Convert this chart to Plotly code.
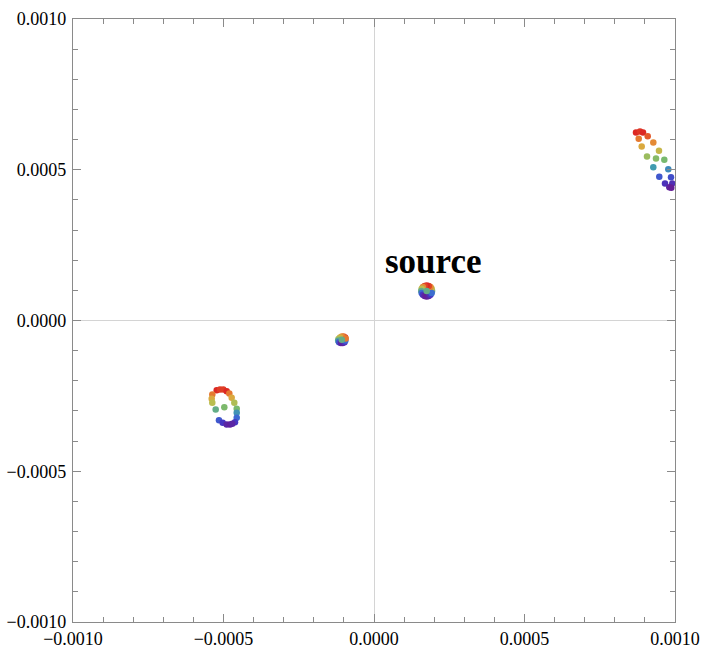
import plotly.graph_objects as go

# Source disk (data units)
src_x = [1.93e-4, 1.916e-4, 1.877e-4, 1.819e-4, 1.75e-4, 1.681e-4, 1.623e-4, 1.584e-4,
         1.57e-4, 1.584e-4, 1.623e-4, 1.681e-4, 1.75e-4, 1.819e-4, 1.877e-4, 1.916e-4, 1.75e-4]
src_y = [0.98e-4, 1.049e-4, 1.107e-4, 1.146e-4, 1.16e-4, 1.146e-4, 1.107e-4, 1.049e-4,
         0.98e-4, 0.911e-4, 0.853e-4, 0.814e-4, 0.80e-4, 0.814e-4, 0.853e-4, 0.911e-4, 0.98e-4]
src_t = [0.5, 0.69, 0.85, 0.96, 1.0, 0.96, 0.85, 0.69, 0.5, 0.31, 0.15, 0.04, 0.0, 0.04, 0.15, 0.31, 0.5]

# Small central image
img1_x = [-0.96e-4, -1.01e-4, -1.07e-4, -1.13e-4, -1.18e-4, -1.19e-4, -1.16e-4, -1.10e-4,
          -1.04e-4, -0.98e-4, -0.95e-4, -0.94e-4, -1.07e-4]
img1_y = [-0.56e-4, -0.53e-4, -0.53e-4, -0.56e-4, -0.61e-4, -0.67e-4, -0.72e-4, -0.75e-4,
          -0.75e-4, -0.72e-4, -0.66e-4, -0.60e-4, -0.64e-4]
img1_t = [1.0, 0.92, 0.85, 0.75, 0.65, 0.45, 0.25, 0.05, 0.02, 0.12, 0.3, 0.88, 0.5]

# Lower-left ring image
img2_x = [-0.5226e-3, -0.5116e-3, -0.5007e-3, -0.4894e-3, -0.5372e-3, -0.4807e-3, -0.5392e-3,
          -0.4728e-3, -0.5372e-3, -0.4641e-3, -0.5259e-3, -0.4973e-3, -0.4561e-3, -0.4561e-3,
          -0.5150e-3, -0.4561e-3, -0.5027e-3, -0.4618e-3, -0.4894e-3, -0.4784e-3, -0.4708e-3]
img2_y = [-0.2312e-3, -0.2289e-3, -0.2289e-3, -0.2345e-3, -0.2454e-3, -0.2421e-3, -0.2597e-3,
          -0.2564e-3, -0.2730e-3, -0.2730e-3, -0.2952e-3, -0.2876e-3, -0.2929e-3, -0.3061e-3,
          -0.3307e-3, -0.3227e-3, -0.3393e-3, -0.3373e-3, -0.3449e-3, -0.3449e-3, -0.3426e-3]
img2_t = [1.0, 0.97, 0.97, 1.0, 0.88, 0.88, 0.78, 0.78, 0.68, 0.66, 0.5, 0.56, 0.55, 0.4,
          0.25, 0.3, 0.15, 0.15, 0.05, 0.02, 0.05]

# Upper-right arc image
img3_x = [0.8704e-3, 0.8837e-3, 0.8937e-3, 0.8794e-3, 0.9093e-3, 0.9279e-3, 0.8894e-3,
          0.9468e-3, 0.9070e-3, 0.9369e-3, 0.9645e-3, 0.9279e-3, 0.9777e-3, 0.9478e-3,
          0.9867e-3, 0.9668e-3, 0.9910e-3, 0.9811e-3, 0.9877e-3]
img3_y = [0.6235e-3, 0.6269e-3, 0.6235e-3, 0.6026e-3, 0.6113e-3, 0.5904e-3, 0.5771e-3,
          0.5629e-3, 0.5439e-3, 0.5373e-3, 0.5330e-3, 0.5085e-3, 0.5018e-3, 0.4766e-3,
          0.4753e-3, 0.4544e-3, 0.4544e-3, 0.4421e-3, 0.4401e-3]
img3_t = [1.0, 0.98, 1.0, 0.88, 0.93, 0.85, 0.78, 0.72, 0.62, 0.58, 0.55, 0.42, 0.38,
          0.25, 0.22, 0.12, 0.1, 0.03, 0.0]

label_text = "source"
label_x = 1.97e-4
label_y = 1.97e-4

rainbow = [
    [0.0, "rgb(100,30,150)"],
    [0.15, "rgb(70,55,195)"],
    [0.3, "rgb(60,105,210)"],
    [0.42, "rgb(65,155,175)"],
    [0.55, "rgb(120,185,110)"],
    [0.68, "rgb(185,190,80)"],
    [0.8, "rgb(225,165,60)"],
    [0.9, "rgb(230,110,45)"],
    [1.0, "rgb(220,40,35)"],
]

fig = go.Figure()
for xs, ys, ts in [(img2_x, img2_y, img2_t), (img1_x, img1_y, img1_t),
                   (img3_x, img3_y, img3_t), (src_x, src_y, src_t)]:
    fig.add_trace(go.Scatter(
        x=xs, y=ys, mode="markers",
        marker=dict(size=6.5, color=ts, colorscale=rainbow, cmin=0, cmax=1,
                    line=dict(width=0)),
        showlegend=False, hoverinfo="skip"))

fig.add_annotation(x=label_x, y=label_y, text="<b>%s</b>" % label_text, showarrow=False,
                   font=dict(family="Liberation Serif", size=35, color="black"),
                   xanchor="center", yanchor="middle")

axis_common = dict(
    range=[-0.001, 0.001], tickmode="linear", tick0=0, dtick=0.0005, tickformat=".4f",
    ticks="inside", ticklen=8, tickwidth=1, tickcolor="#8a8a8a",
    minor=dict(ticks="inside", dtick=0.0001, tick0=0, ticklen=5, tickwidth=1,
               tickcolor="#8a8a8a", showgrid=False),
    showline=True, linecolor="#8a8a8a", linewidth=1.3, mirror="ticks",
    showgrid=False, zeroline=True, zerolinecolor="#d4d4d4", zerolinewidth=1,
    tickfont=dict(family="Liberation Serif", size=18, color="black"),
    fixedrange=True, automargin=False,
)

fig.update_layout(
    width=701, height=648,
    margin=dict(l=73, r=26, t=19, b=26),
    paper_bgcolor="white", plot_bgcolor="white",
    xaxis=axis_common, yaxis=axis_common,
)
fig.update_yaxes(ticklabelstandoff=2)
fig.update_xaxes(ticklabelstandoff=0)

fig.write_html("out.html", config={"displayModeBar": False},
               post_script="document.body.style.margin='0';document.body.style.overflow='hidden';")
